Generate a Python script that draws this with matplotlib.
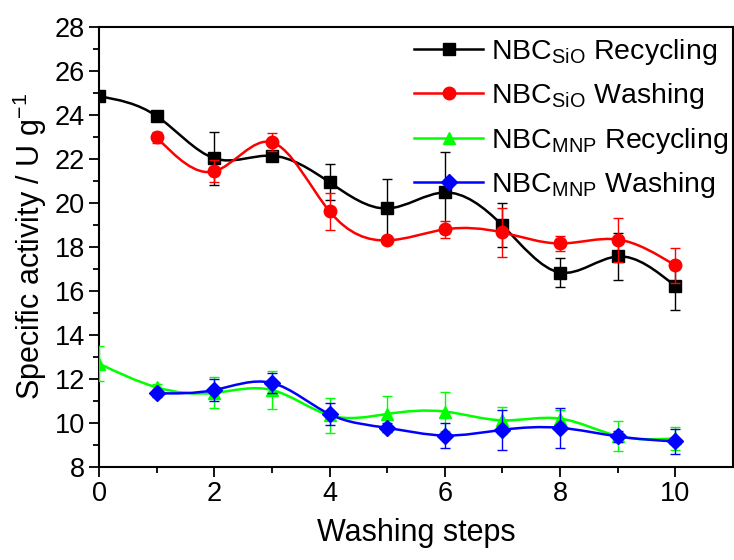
import numpy as np
import matplotlib
matplotlib.use("Agg")
import matplotlib.pyplot as plt
from matplotlib.path import Path
from matplotlib.patches import PathPatch
from matplotlib.lines import Line2D

plt.rcParams['font.family'] = ['Liberation Sans', 'DejaVu Sans']
plt.rcParams['mathtext.fontset'] = 'custom'
plt.rcParams['mathtext.rm'] = 'Liberation Sans'
plt.rcParams['mathtext.it'] = 'Liberation Sans:italic'
plt.rcParams['mathtext.bf'] = 'Liberation Sans:bold'

# ---- data ----
steps_rec = [0, 1, 2, 3, 4, 5, 6, 7, 8, 9, 10]
steps_wash = [1, 2, 3, 4, 5, 6, 7, 8, 9, 10]

sio_rec = [24.85, 23.95, 22.03, 22.15, 20.94, 19.75, 20.48, 18.98, 16.84, 17.57, 16.22]
sio_rec_err = [0.05, 0.1, 1.2, 0.1, 0.82, 1.35, 1.85, 1.0, 0.65, 1.05, 1.1]

sio_wash = [22.99, 21.44, 22.76, 19.62, 18.30, 18.80, 18.66, 18.16, 18.34, 17.16]
sio_wash_err = [0.25, 0.5, 0.4, 0.85, 0.1, 0.4, 1.1, 0.35, 1.0, 0.8]

mnp_rec = [12.7, 11.62, 11.37, 11.5, 10.35, 10.41, 10.52, 10.12, 10.2, 9.41, 9.3]
mnp_rec_err = [0.8, 0.15, 0.7, 0.85, 0.8, 0.8, 0.9, 0.6, 0.4, 0.68, 0.52]

mnp_wash = [11.35, 11.5, 11.82, 10.4, 9.78, 9.43, 9.69, 9.78, 9.39, 9.16]
mnp_wash_err = [0.15, 0.5, 0.45, 0.5, 0.2, 0.55, 0.9, 0.9, 0.25, 0.55]

labels = [r'NBC$_{\mathrm{SiO}}$ Recycling', r'NBC$_{\mathrm{SiO}}$ Washing',
          r'NBC$_{\mathrm{MNP}}$ Recycling', r'NBC$_{\mathrm{MNP}}$ Washing']
colors = ['#000000', '#FF0000', '#00FF00', '#0000FF']
markers = ['s', 'o', '^', 'D']
msizes = [8, 9, 9, 8]


def spline_path(x, y):
    x = np.asarray(x, float)
    y = np.asarray(y, float)
    n = len(x)
    h = np.diff(x)
    A = np.zeros((n, n))
    b = np.zeros(n)
    A[0, 0] = 1
    A[-1, -1] = 1
    for i in range(1, n - 1):
        A[i, i - 1] = h[i - 1]
        A[i, i] = 2 * (h[i - 1] + h[i])
        A[i, i + 1] = h[i]
        b[i] = 6 * ((y[i + 1] - y[i]) / h[i] - (y[i] - y[i - 1]) / h[i - 1])
    M = np.linalg.solve(A, b)
    d = np.zeros(n)
    for i in range(n - 1):
        d[i] = (y[i + 1] - y[i]) / h[i] - h[i] * (2 * M[i] + M[i + 1]) / 6
    d[-1] = (y[-1] - y[-2]) / h[-1] + h[-1] * (M[-2] + 2 * M[-1]) / 6
    verts = [(x[0], y[0])]
    codes = [Path.MOVETO]
    for i in range(n - 1):
        hh = h[i]
        verts += [(x[i] + hh / 3, y[i] + hh * d[i] / 3),
                  (x[i + 1] - hh / 3, y[i + 1] - hh * d[i + 1] / 3),
                  (x[i + 1], y[i + 1])]
        codes += [Path.CURVE4] * 3
    return Path(verts, codes)


fig = plt.figure(figsize=(7.34, 5.6), dpi=100)
ax = fig.add_axes([0.1349, 0.1661, 0.8637, 0.7857])

series = [(steps_rec, sio_rec, sio_rec_err), (steps_wash, sio_wash, sio_wash_err),
          (steps_rec, mnp_rec, mnp_rec_err), (steps_wash, mnp_wash, mnp_wash_err)]

handles = []
for k, (xs, ys, es) in enumerate(series):
    c = colors[k]
    ax.add_patch(PathPatch(spline_path(xs, ys), facecolor='none', edgecolor=c,
                           lw=1.8, zorder=2 + k))
    ax.errorbar(xs, ys, yerr=es, fmt='none', ecolor=c, elinewidth=1.0,
                capsize=3.5, capthick=1.0, zorder=2 + k)
    ax.plot(xs, ys, linestyle='none', marker=markers[k], ms=msizes[k],
            color=c, zorder=2.5 + k)
    handles.append(Line2D([], [], color=c, lw=1.8, marker=markers[k],
                          ms=msizes[k]))

ax.set_xlim(0, 11)
ax.set_ylim(8, 28)
ax.set_xticks([0, 2, 4, 6, 8, 10])
ax.set_xticks([1, 3, 5, 7, 9], minor=True)
ax.set_yticks(np.arange(8, 29, 2))
ax.set_yticks(np.arange(9, 28, 2), minor=True)
ax.tick_params(axis='both', which='major', direction='out', length=7, width=1.3,
               labelsize=19.5, top=False, right=False, pad=3)
ax.tick_params(axis='both', which='minor', direction='out', length=4, width=1.3,
               top=False, right=False)
for s in ax.spines.values():
    s.set_linewidth(1.5)

ax.set_xlabel('Washing steps', fontsize=22, labelpad=8)
ax.set_ylabel(r'Specific activity / U g$^{-1}$', fontsize=22, labelpad=4)

ax.legend(handles, labels, loc='upper right', bbox_to_anchor=(1.02, 1.016),
          frameon=False, fontsize=20.5, handlelength=2.4, handletextpad=0.3,
          labelspacing=0.5, borderaxespad=0.2)

fig.savefig('out.png', dpi=100)
